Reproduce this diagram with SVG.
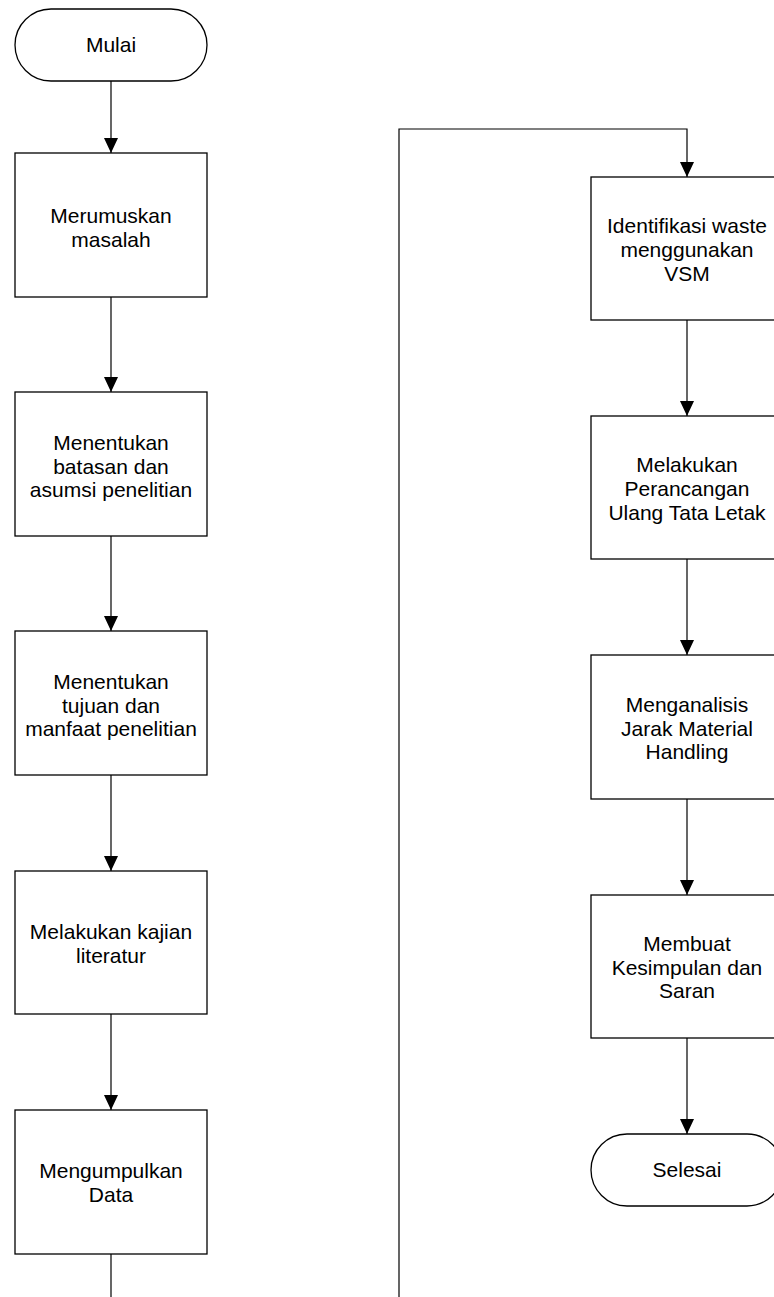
<svg xmlns="http://www.w3.org/2000/svg" width="774" height="1297" viewBox="0 0 774 1297">
<style>
.box{fill:#fff;stroke:#000;stroke-width:1.3}
.ln{fill:none;stroke:#000;stroke-width:1.2}
text{font-family:"Liberation Sans",Arial,sans-serif;font-size:21px;fill:#000;text-anchor:middle}
</style>
<defs>
<marker id="arr" markerUnits="userSpaceOnUse" markerWidth="16" markerHeight="16" refX="15" refY="7" orient="auto" viewBox="0 0 16 14">
<path d="M0,0 L15,7 L0,14 Z" fill="#000"/>
</marker>
</defs>
<rect width="774" height="1297" fill="#fff"/>
<g id="connectors">
<path class="ln" d="M111,81 V153" marker-end="url(#arr)"/>
<path class="ln" d="M111,297 V392" marker-end="url(#arr)"/>
<path class="ln" d="M111,536 V631" marker-end="url(#arr)"/>
<path class="ln" d="M111,775 V871" marker-end="url(#arr)"/>
<path class="ln" d="M111,1014 V1110" marker-end="url(#arr)"/>
<path class="ln" d="M111,1254 V1297"/>
<path class="ln" d="M399,1297 V129 H687 V177" marker-end="url(#arr)"/>
<path class="ln" d="M687,320 V416" marker-end="url(#arr)"/>
<path class="ln" d="M687,559 V655" marker-end="url(#arr)"/>
<path class="ln" d="M687,799 V895" marker-end="url(#arr)"/>
<path class="ln" d="M687,1038 V1134" marker-end="url(#arr)"/>
</g>
<g id="mulai">
<rect class="box" x="15" y="9" width="192" height="72" rx="36" ry="36"/>
<text x="111" y="52">Mulai</text>
</g>
<g id="merumuskan">
<rect class="box" x="15" y="153" width="192" height="144"/>
<text x="111" y="223">Merumuskan</text>
<text x="111" y="247">masalah</text>
</g>
<g id="batasan">
<rect class="box" x="15" y="392" width="192" height="144"/>
<text x="111" y="450">Menentukan</text>
<text x="111" y="474">batasan dan</text>
<text x="111" y="497">asumsi penelitian</text>
</g>
<g id="tujuan">
<rect class="box" x="15" y="631" width="192" height="144"/>
<text x="111" y="689">Menentukan</text>
<text x="111" y="713">tujuan dan</text>
<text x="111" y="736">manfaat penelitian</text>
</g>
<g id="literatur">
<rect class="box" x="15" y="871" width="192" height="143"/>
<text x="111" y="939">Melakukan kajian</text>
<text x="111" y="963">literatur</text>
</g>
<g id="data">
<rect class="box" x="15" y="1110" width="192" height="144"/>
<text x="111" y="1178">Mengumpulkan</text>
<text x="111" y="1202">Data</text>
</g>
<g id="identifikasi">
<rect class="box" x="591" y="177" width="192" height="143"/>
<text x="687" y="233">Identifikasi waste</text>
<text x="687" y="257">menggunakan</text>
<text x="687" y="281">VSM</text>
</g>
<g id="perancangan">
<rect class="box" x="591" y="416" width="192" height="143"/>
<text x="687" y="472">Melakukan</text>
<text x="687" y="496">Perancangan</text>
<text x="687" y="520">Ulang Tata Letak</text>
</g>
<g id="menganalisis">
<rect class="box" x="591" y="655" width="192" height="144"/>
<text x="687" y="712">Menganalisis</text>
<text x="687" y="736">Jarak Material</text>
<text x="687" y="759">Handling</text>
</g>
<g id="kesimpulan">
<rect class="box" x="591" y="895" width="192" height="143"/>
<text x="687" y="951">Membuat</text>
<text x="687" y="975">Kesimpulan dan</text>
<text x="687" y="998">Saran</text>
</g>
<g id="selesai">
<rect class="box" x="591" y="1134" width="192" height="72" rx="36" ry="36"/>
<text x="687" y="1177">Selesai</text>
</g>
</svg>
